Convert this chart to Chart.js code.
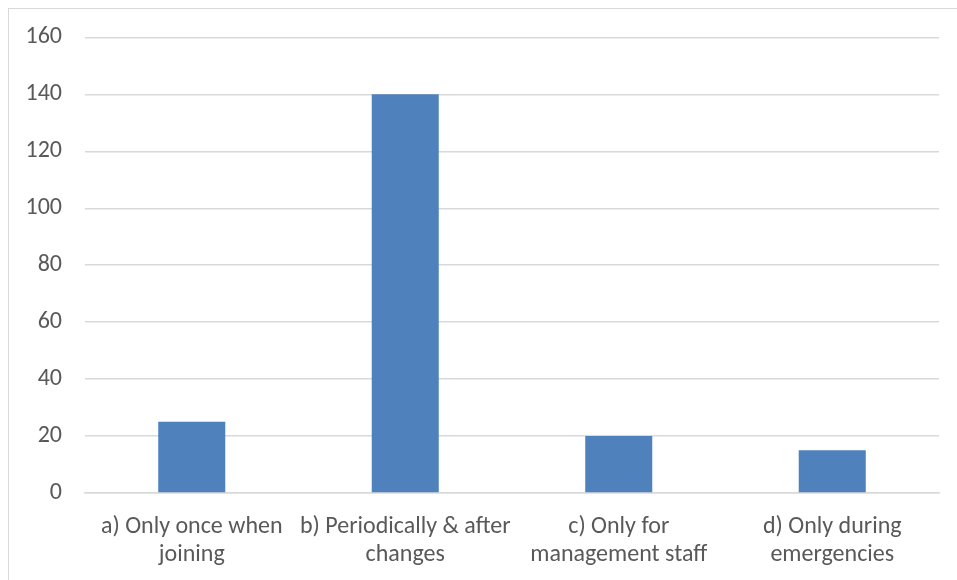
<!DOCTYPE html>
<html>
<head>
<meta charset="utf-8">
<script src="https://cdn.jsdelivr.net/npm/chart.js@4/dist/chart.umd.min.js"></script>
<style>
  html, body { margin: 0; padding: 0; background: #fff; overflow: hidden; }
  #wrap { position: relative; width: 957px; height: 580px; }
  #frame { position: absolute; left: 8px; top: 8px; width: 1000px; height: 1000px;
           border: 1px solid #d9d9d9; box-sizing: border-box; pointer-events: none; }
  canvas { position: absolute; left: 0; top: 0; }
</style>
</head>
<body>
<div id="wrap">
  <div id="frame"></div>
  <canvas id="c" width="957" height="580"></canvas>
</div>
<script>
// Survey answers: how often safety training is given
const categories = [
  ["a) Only once when", "joining"],
  ["b) Periodically & after", "changes"],
  ["c) Only for", "management staff"],
  ["d) Only during", "emergencies"]
];
const responses = [25, 140, 20, 15];
const yTicks = [0, 20, 40, 60, 80, 100, 120, 140, 160];

const FONT = "Carlito, Calibri, Lato, 'Open Sans', sans-serif";
const TEXT = "#595959";
const GRID = "#d9d9d9";

new Chart(document.getElementById("c"), {
  type: "bar",
  data: {
    labels: categories,
    datasets: [{
      data: responses,
      backgroundColor: "#4f81bd",
      borderWidth: 0,
      categoryPercentage: 1,
      barPercentage: 0.314
    }]
  },
  options: {
    responsive: false,
    animation: false,
    events: [],
    layout: { padding: { top: 37, right: 18, left: 0, bottom: 0 } },
    plugins: { legend: { display: false }, tooltip: { enabled: false } },
    scales: {
      x: {
        grid: { display: false },
        border: { color: GRID, width: 1.5 },
        ticks: {
          color: TEXT,
          font: { family: FONT, size: 24, lineHeight: 1.17 },
          padding: 12,
          maxRotation: 0,
          autoSkip: false
        },
        afterFit: s => { s.height = 87; }
      },
      y: {
        min: 0,
        max: 160,
        afterBuildTicks: s => { s.ticks = yTicks.map(v => ({ value: v })); },
        grid: { color: GRID, lineWidth: 1.5, drawTicks: false },
        border: { display: false },
        ticks: {
          color: TEXT,
          font: { family: FONT, size: 24 },
          padding: 23
        },
        afterFit: s => { s.width = 85; }
      }
    }
  }
});
</script>
</body>
</html>
